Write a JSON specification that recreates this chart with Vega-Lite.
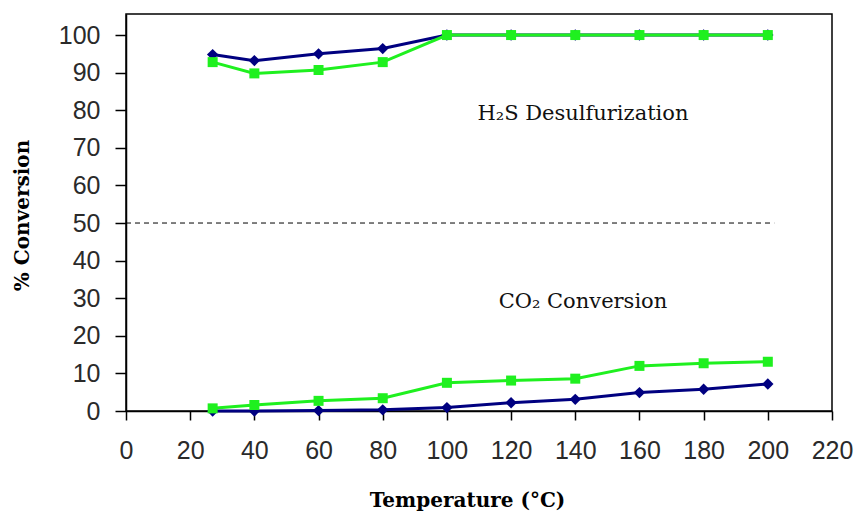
{
  "$schema": "https://vega.github.io/schema/vega-lite/v6.json",
  "width": 706,
  "height": 397,
  "autosize": {"type": "none"},
  "padding": {"left": 126, "top": 14, "right": 28, "bottom": 105},
  "background": "white",
  "config": {
    "view": {"stroke": "black", "strokeWidth": 1.5},
    "axis": {
      "grid": false,
      "domainColor": "black",
      "domainWidth": 1.5,
      "tickColor": "black",
      "tickWidth": 1.5,
      "labelFont": "Liberation Sans",
      "labelFontSize": 25,
      "labelColor": "#2a2a2a",
      "labelOverlap": false,
      "labelBound": false,
      "labelFlush": false,
      "titleFont": "DejaVu Serif",
      "titleFontWeight": "bold",
      "titleFontSize": 20,
      "titleColor": "black"
    }
  },
  "datasets": {
    "series": [
      {"temp": 27, "conv": 94.8, "gas": "H2S", "cat": "A"},
      {"temp": 40, "conv": 93.2, "gas": "H2S", "cat": "A"},
      {"temp": 60, "conv": 95.0, "gas": "H2S", "cat": "A"},
      {"temp": 80, "conv": 96.4, "gas": "H2S", "cat": "A"},
      {"temp": 100, "conv": 100, "gas": "H2S", "cat": "A"},
      {"temp": 120, "conv": 100, "gas": "H2S", "cat": "A"},
      {"temp": 140, "conv": 100, "gas": "H2S", "cat": "A"},
      {"temp": 160, "conv": 100, "gas": "H2S", "cat": "A"},
      {"temp": 180, "conv": 100, "gas": "H2S", "cat": "A"},
      {"temp": 200, "conv": 100, "gas": "H2S", "cat": "A"},
      {"temp": 27, "conv": 0.0, "gas": "CO2", "cat": "A"},
      {"temp": 40, "conv": 0.0, "gas": "CO2", "cat": "A"},
      {"temp": 60, "conv": 0.1, "gas": "CO2", "cat": "A"},
      {"temp": 80, "conv": 0.3, "gas": "CO2", "cat": "A"},
      {"temp": 100, "conv": 0.9, "gas": "CO2", "cat": "A"},
      {"temp": 120, "conv": 2.2, "gas": "CO2", "cat": "A"},
      {"temp": 140, "conv": 3.1, "gas": "CO2", "cat": "A"},
      {"temp": 160, "conv": 4.9, "gas": "CO2", "cat": "A"},
      {"temp": 180, "conv": 5.8, "gas": "CO2", "cat": "A"},
      {"temp": 200, "conv": 7.2, "gas": "CO2", "cat": "A"},
      {"temp": 27, "conv": 92.8, "gas": "H2S", "cat": "B"},
      {"temp": 40, "conv": 89.8, "gas": "H2S", "cat": "B"},
      {"temp": 60, "conv": 90.7, "gas": "H2S", "cat": "B"},
      {"temp": 80, "conv": 92.8, "gas": "H2S", "cat": "B"},
      {"temp": 100, "conv": 100, "gas": "H2S", "cat": "B"},
      {"temp": 120, "conv": 100, "gas": "H2S", "cat": "B"},
      {"temp": 140, "conv": 100, "gas": "H2S", "cat": "B"},
      {"temp": 160, "conv": 100, "gas": "H2S", "cat": "B"},
      {"temp": 180, "conv": 100, "gas": "H2S", "cat": "B"},
      {"temp": 200, "conv": 100, "gas": "H2S", "cat": "B"},
      {"temp": 27, "conv": 0.7, "gas": "CO2", "cat": "B"},
      {"temp": 40, "conv": 1.6, "gas": "CO2", "cat": "B"},
      {"temp": 60, "conv": 2.7, "gas": "CO2", "cat": "B"},
      {"temp": 80, "conv": 3.4, "gas": "CO2", "cat": "B"},
      {"temp": 100, "conv": 7.5, "gas": "CO2", "cat": "B"},
      {"temp": 120, "conv": 8.1, "gas": "CO2", "cat": "B"},
      {"temp": 140, "conv": 8.6, "gas": "CO2", "cat": "B"},
      {"temp": 160, "conv": 12.0, "gas": "CO2", "cat": "B"},
      {"temp": 180, "conv": 12.7, "gas": "CO2", "cat": "B"},
      {"temp": 200, "conv": 13.1, "gas": "CO2", "cat": "B"}
    ],
    "divider": [{"temp": 0, "temp2": 202, "conv": 50}],
    "notes": [
      {"temp": 142.4, "conv": 79, "label": "H₂S Desulfurization"},
      {"temp": 142.4, "conv": 29, "label": "CO₂ Conversion"}
    ]
  },
  "encoding": {
    "x": {
      "field": "temp",
      "type": "quantitative",
      "scale": {"domain": [0, 220], "nice": false, "zero": false},
      "axis": {
        "values": [0, 20, 40, 60, 80, 100, 120, 140, 160, 180, 200, 220],
        "tickSize": 9,
        "labelPadding": 18,
        "title": "Temperature (°C)",
        "titleX": 341,
        "titleY": 89,
        "titleBaseline": "middle",
        "titleAlign": "center",
        "titleAnchor": null
      }
    },
    "y": {
      "field": "conv",
      "type": "quantitative",
      "scale": {"domain": [0, 105.6], "nice": false, "zero": false},
      "axis": {
        "values": [0, 10, 20, 30, 40, 50, 60, 70, 80, 90, 100],
        "tickSize": 11,
        "labelPadding": 15,
        "title": "% Conversion",
        "titleX": -104,
        "titleY": 201,
        "titleAngle": -90,
        "titleBaseline": "middle",
        "titleAlign": "center",
        "titleAnchor": null
      }
    }
  },
  "layer": [
    {
      "data": {"name": "divider"},
      "mark": {"type": "rule", "color": "black", "strokeWidth": 1, "strokeDash": [5, 4]},
      "encoding": {"x2": {"field": "temp2"}}
    },
    {
      "data": {"name": "series"},
      "transform": [{"filter": "datum.cat === 'A'"}],
      "mark": {"type": "line", "color": "#000080", "strokeWidth": 3},
      "encoding": {"detail": {"field": "gas"}}
    },
    {
      "data": {"name": "series"},
      "transform": [{"filter": "datum.cat === 'A'"}],
      "mark": {"type": "point", "shape": "diamond", "filled": true, "color": "#000080", "opacity": 1, "size": 130},
      "encoding": {}
    },
    {
      "data": {"name": "series"},
      "transform": [{"filter": "datum.cat === 'B'"}],
      "mark": {"type": "line", "color": "#1ff01f", "strokeWidth": 3},
      "encoding": {"detail": {"field": "gas"}}
    },
    {
      "data": {"name": "series"},
      "transform": [{"filter": "datum.cat === 'B'"}],
      "mark": {"type": "point", "shape": "square", "filled": true, "color": "#1ff01f", "opacity": 1, "size": 100},
      "encoding": {}
    },
    {
      "data": {"name": "notes"},
      "mark": {"type": "text", "font": "DejaVu Serif", "fontSize": 21, "color": "#111111", "align": "center", "baseline": "middle"},
      "encoding": {"text": {"field": "label"}}
    }
  ]
}
